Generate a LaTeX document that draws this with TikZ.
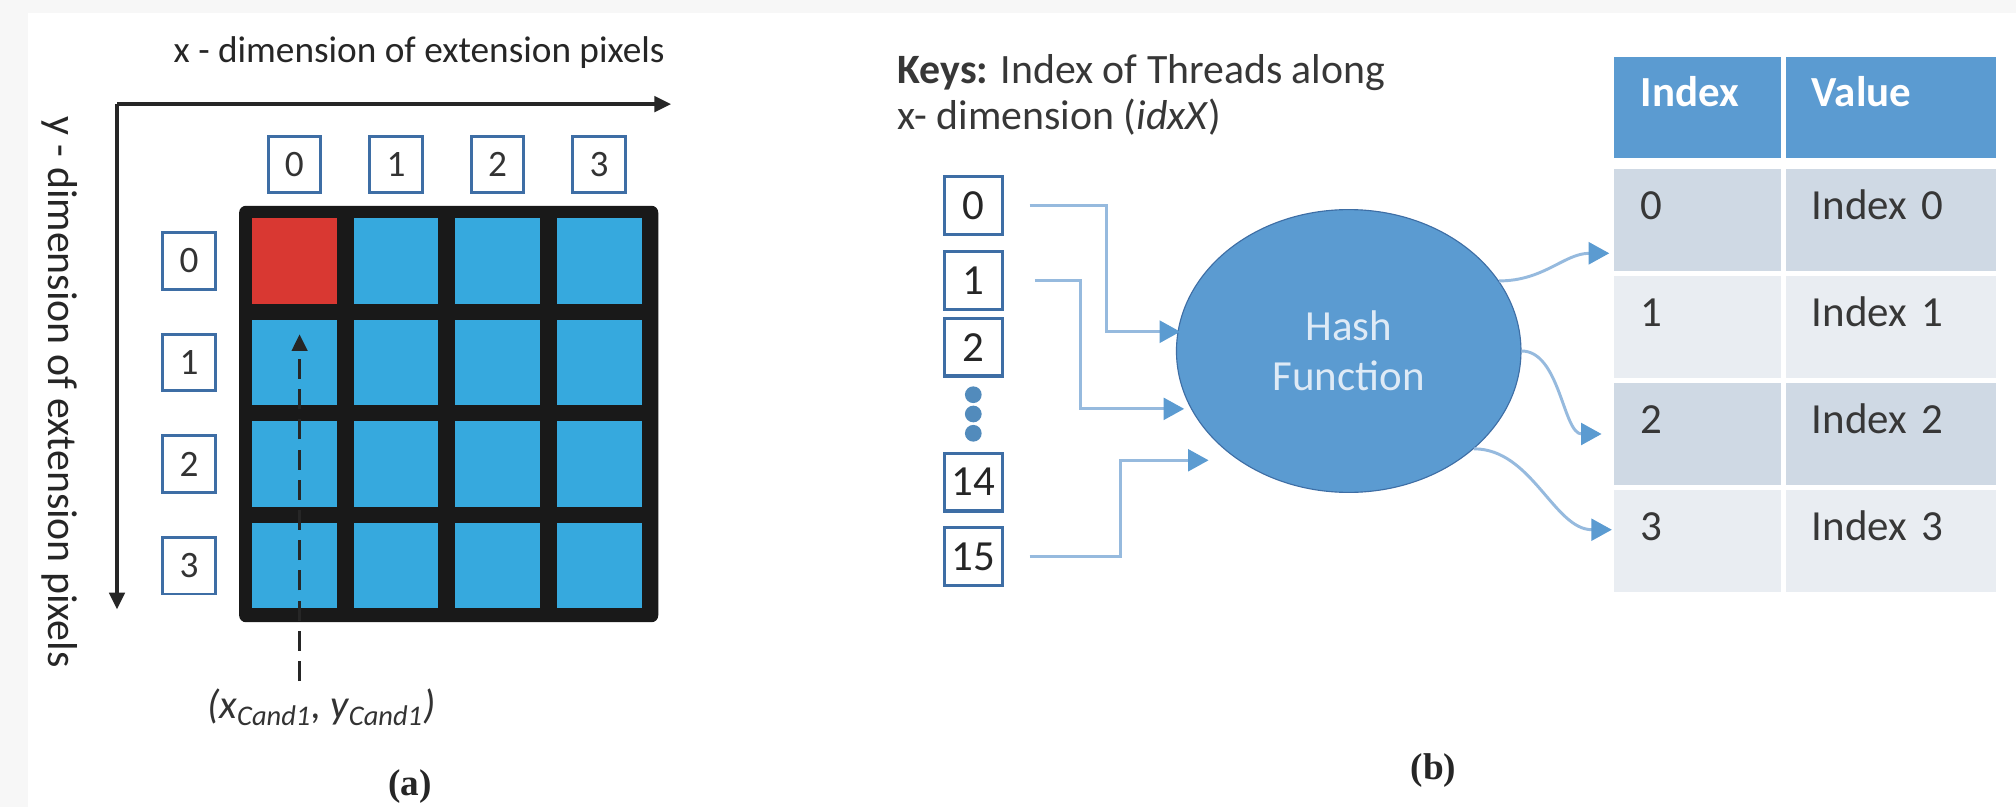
\documentclass[tikz,border=0pt]{standalone}
\usepackage{fontspec}
\setmainfont{Carlito}
\newfontfamily\capfont{Liberation Serif}
\usepackage{tikz}
\usetikzlibrary{arrows.meta,positioning,shapes.geometric}
\definecolor{hfblue}{RGB}{91,155,209}
\definecolor{hfedge}{RGB}{62,110,165}
\definecolor{hfline}{RGB}{150,186,222}
\definecolor{hfcell}{RGB}{54,169,222}
\definecolor{hfred}{RGB}{217,56,50}
\definecolor{hfrowdark}{RGB}{207,217,228}
\definecolor{hfrowlight}{RGB}{233,237,242}
\definecolor{hftext}{RGB}{55,55,55}
\definecolor{hffont}{RGB}{222,234,246}
\tikzset{
  hfaxis/.style={-{Triangle[length=2.6mm,width=2.4mm]}, line width=1.5pt, draw=black!85},
  hfdash/.style={-{Triangle[length=2.6mm,width=2.4mm]}, line width=1.4pt, draw=black!85, dash pattern=on 3.1mm off 1.6mm},
  hfgrid/.style={fill=black!90, rounded corners=3pt, minimum width=6.52cm, minimum height=6.48cm, inner sep=0pt},
  hfcellbox/.style={fill=hfcell, minimum width=1.32cm, minimum height=1.33cm, inner sep=0pt},
  hflabel/.style={draw=hfedge, line width=1.3pt, fill=white, minimum width=.82cm, minimum height=.88cm, inner sep=0pt, font=\fontsize{16.5}{19}\selectfont, text=black!80},
  hfkey/.style={draw=hfedge, line width=1.5pt, fill=white, minimum size=.9cm, inner sep=0pt, font=\fontsize{19}{22}\selectfont, text=black!85},
  hfdot/.style={circle, fill=hfblue!90!black, minimum size=.26cm, inner sep=0pt},
  hfhash/.style={ellipse, fill=hfblue, draw=hfedge, line width=.5pt, minimum width=5.36cm, minimum height=4.4cm, align=center, text=hffont, font=\fontsize{19}{22}\selectfont},
  hfarr/.style={-{Triangle[length=3.2mm,width=3.4mm,color=hfblue]}, line width=1.3pt, draw=hfline},
  hftab/.style={minimum height=1.58cm, inner ysep=0pt, text height=.42cm, text depth=.44cm, align=left, font=\fontsize{19}{22}\selectfont, text=hftext},
  hfcolA/.style={hftab, text width=1.76cm, inner xsep=.42cm},
  hfcolB/.style={hftab, text width=2.46cm, inner xsep=.4cm},
  hfhead/.style={fill=hfblue, text=white, font=\fontsize{19}{22}\selectfont\bfseries},
  hfdark/.style={fill=hfrowdark},
  hflight/.style={fill=hfrowlight},
  hfcap/.style={font=\capfont\bfseries\fontsize{16.5}{18}\selectfont, text=black!85}
}
\begin{document}
\begin{tikzpicture}[x=.02cm, y=-.02cm]
  \useasboundingbox (0,0) rectangle (1568,628);
  \fill[black!3] (0,0) rectangle (1568,628);
  \fill[white] (22,10) rectangle (1568,628);
  \node[font=\fontsize{16.5}{19}\selectfont, text=black!85] (xlab) at (326,41) {x - dimension of extension pixels};
  \node[font=\fontsize{18.5}{21}\selectfont, text=black!85, rotate=-90] (ylab) at (46,305) {y - dimension of extension pixels};
  \coordinate (orig) at (91,81);
  \coordinate (xend) at (522,81);
  \coordinate (yend) at (91,474);
  \draw[hfaxis] (orig) -- (xend);
  \draw[hfaxis] (orig) -- (yend);
  \node[hfgrid] (grid) at (349,322) {};
  \foreach \c in {0,...,3}{
    \foreach \r in {0,...,3}{
      \node[hfcellbox] (c\c\r) at ({229+79*\c},{203+79*\r}) {};
    }
    \node[hflabel] (t\c) at ({229+79*\c},128) {\c};
    \node[hflabel] (l\c) at (147,{203+79*\c}) {\c};
  }
  \node[hfcellbox, fill=hfred] (red) at (c00) {};
  \node[font=\fontsize{18}{20}\selectfont\itshape, text=black!80] (cand) at (250,550) {(x\textsubscript{Cand1}, y\textsubscript{Cand1})};
  \coordinate (candtip) at (233,260);
  \draw[hfdash] (cand.north -| candtip) -- (candtip);
  \node[hfcap] (capa) at (319,612) {(a)};

  \node[anchor=north west, align=left, font=\fontsize{18.5}{20.5}\selectfont, text=hftext] (keys) at (692,36) {\textbf{Keys:} Index of Threads along\\x- dimension (\textit{idxX})};
  \node[hfkey] (k0) at (757,160) {0};
  \node[hfkey] (k1) at (757,218) {1};
  \node[hfkey] (k2) at (757,270) {2};
  \node[hfdot] (d1) at (757,307) {};
  \node[hfdot] (d2) at (757,322) {};
  \node[hfdot] (d3) at (757,337) {};
  \node[hfkey] (k14) at (757,375) {14};
  \node[hfkey] (k15) at (757,433) {15};
  \node[hfhash] (hash) at (1049,273) {Hash\\Function};
  \coordinate (in0) at (918,258);
  \coordinate (in1) at (921,318);
  \coordinate (in15) at (940,358);
  \draw[hfarr] ([xshift=.4cm]k0.east) -- ++(59.5,0) |- (in0);
  \draw[hfarr] ([xshift=.48cm]k1.east) -- ++(35.5,0) |- (in1);
  \draw[hfarr] ([xshift=.4cm]k15.east) -- ++(70.5,0) |- (in15);

  \node[hfcolA, hfhead] (hidx) at (1320,83.5) {Index};
  \node[hfcolB, hfhead, right=.07cm of hidx] (hval) {Value};
  \node[hfcolA, hfdark, below=.16cm of hidx] (r0a) {0};
  \node[hfcolB, hfdark, right=.07cm of r0a] (r0b) {Index 0};
  \node[hfcolA, hflight, below=.07cm of r0a] (r1a) {1};
  \node[hfcolB, hflight, right=.07cm of r1a] (r1b) {Index 1};
  \node[hfcolA, hfdark, below=.07cm of r1a] (r2a) {2};
  \node[hfcolB, hfdark, right=.07cm of r2a] (r2b) {Index 2};
  \node[hfcolA, hflight, below=.07cm of r2a] (r3a) {3};
  \node[hfcolB, hflight, right=.07cm of r3a] (r3b) {Index 3};
  \draw[hfarr] (hash.25) .. controls +(35,0) and +(-35,0) .. ([xshift=-.06cm]r0a.west |- 0,197);
  \draw[hfarr] (hash.0) .. controls +(30,0) and +(-30,0) .. ([xshift=-.18cm]r2a.west);
  \draw[hfarr] (hash.-38) .. controls +(45,0) and +(-45,0) .. ([xshift=-.02cm]r3a.west |- 0,412);
  \node[hfcap] (capb) at (1115,599) {(b)};
\end{tikzpicture}
\end{document}
